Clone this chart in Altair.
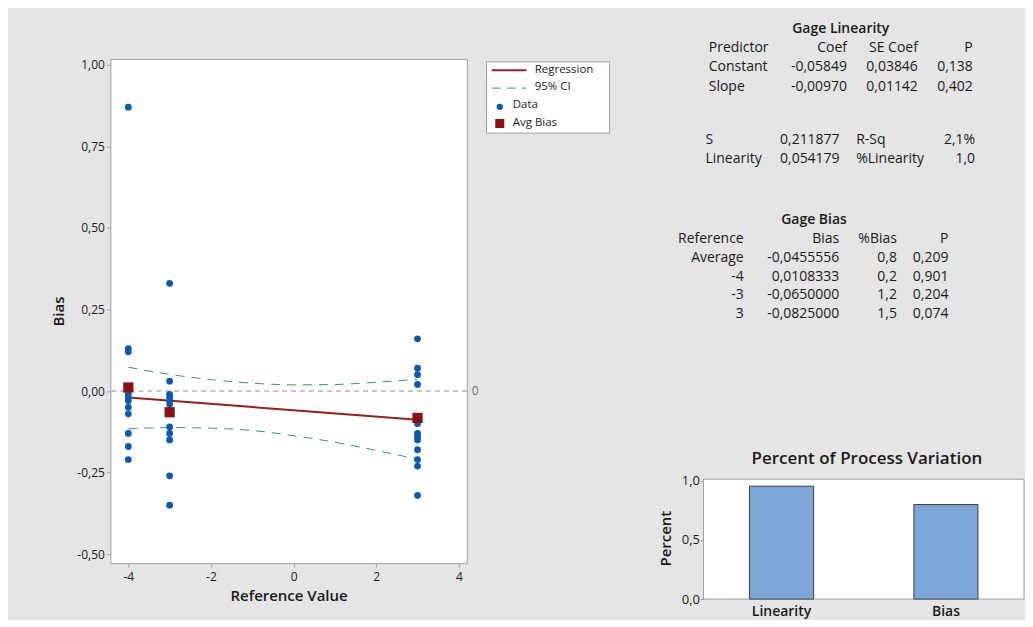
import altair as alt
import pandas as pd

FONT = "Open Sans"
TXT = "#1a1a1a"
BG = "#e5e5e5"
BLUE = "#0a5aad"
RED = "#9c1c1c"
SQ = "#8b1010"
GREEN = "#36a043"
BARC = "#7ca6d8"
GRID = "#a0a0a0"

# ---------------- data ----------------
ref_levels = [-4, -3, 3]
bias_m4 = [0.87, 0.13, 0.12, -0.01, -0.02, -0.03, -0.05, -0.07, -0.13, -0.17, -0.21]
bias_m3 = [0.33, 0.03, -0.01, -0.02, -0.03, -0.04, -0.06, -0.11, -0.13, -0.15, -0.26, -0.35]
bias_p3 = [0.16, 0.07, 0.05, 0.02, -0.10, -0.13, -0.14, -0.15, -0.18, -0.21, -0.23, -0.32]
avg_bias = [0.0108333, -0.0650000, -0.0825000]
reg_x = [-4, 3]
reg_y = [-0.020, -0.088]
ci_x = [-4, -3, -2, -1, 0, 1, 2, 3]
ci_upper = [0.073, 0.051, 0.035, 0.024, 0.019, 0.020, 0.027, 0.036]
ci_lower = [-0.116, -0.112, -0.114, -0.121, -0.137, -0.157, -0.182, -0.209]
legend_labels = ["Regression", "95% CI", "Data", "Avg Bias"]

pv_cats = ["Linearity", "Bias"]
pv_vals = [0.955, 0.80]

lin_title = "Gage Linearity"
lin_c1 = ["Predictor", "Constant", "Slope"]
lin_c2 = ["Coef", "-0,05849", "-0,00970"]
lin_c3 = ["SE Coef", "0,03846", "0,01142"]
lin_c4 = ["P", "0,138", "0,402"]
st_c1 = ["S", "Linearity"]
st_c2 = ["0,211877", "0,054179"]
st_c3 = ["R-Sq", "%Linearity"]
st_c4 = ["2,1%", "1,0"]
bias_title = "Gage Bias"
bi_c1 = ["Reference", "Average", "-4", "-3", "3"]
bi_c2 = ["Bias", "-0,0455556", "0,0108333", "-0,0650000", "-0,0825000"]
bi_c3 = ["%Bias", "0,8", "0,2", "1,2", "1,5"]
bi_c4 = ["P", "0,209", "0,901", "0,204", "0,074"]
bar_title = "Percent of Process Variation"
bar_ytitle = "Percent"

# ---------------- main panel ----------------
W1, H1 = 357, 505
xsc = alt.Scale(domain=[-4.435, 4.193], nice=False, zero=False)
ysc = alt.Scale(domain=[-0.5275, 1.018], nice=False, zero=False)

pts = pd.DataFrame({
    "x": [ref_levels[0]] * len(bias_m4) + [ref_levels[1]] * len(bias_m3) + [ref_levels[2]] * len(bias_p3),
    "y": bias_m4 + bias_m3 + bias_p3,
})
avg_df = pd.DataFrame({"x": ref_levels, "y": avg_bias})
reg_df = pd.DataFrame({"x": reg_x, "y": reg_y})
ci_df = pd.DataFrame({"x": ci_x, "up": ci_upper, "lo": ci_lower})
one = pd.DataFrame({"k": [0]})

yfmt = "replace(replace(format(datum.value, '.2f'), '.', ','), '\u2212', '-')"
xfmt = "replace(format(datum.value, 'd'), '\u2212', '-')"

X = alt.X("x:Q", scale=xsc, axis=alt.Axis(
    values=[-4, -2, 0, 2, 4], title="Reference Value", labelExpr=xfmt,
    domain=False, grid=False, tickColor=GRID, tickSize=4, labelPadding=4,
    labelFontSize=12, titleFontSize=15, titleFontWeight=600, titlePadding=6))
Y = alt.Y("y:Q", scale=ysc, axis=alt.Axis(
    values=[-0.5, -0.25, 0, 0.25, 0.5, 0.75, 1.0], title="Bias", labelExpr=yfmt,
    domain=False, grid=False, tickColor=GRID, tickSize=4, labelPadding=2,
    labelFontSize=12, titleFontSize=15, titleFontWeight=600, titlePadding=10))

zero = alt.Chart(one).mark_rule(color="#b4b4b4", strokeDash=[5, 4], strokeWidth=1.5).encode(
    y=alt.datum(0, scale=ysc))
zero_lbl = alt.Chart(one).mark_text(align="left", baseline="middle", font=FONT, fontSize=12,
                                    color="#707070").encode(
    x=alt.value(362), y=alt.datum(0, scale=ysc), text=alt.value("0"))
ci_up = alt.Chart(ci_df).mark_line(color=GREEN, strokeDash=[9, 7], strokeWidth=1,
                                   interpolate="monotone").encode(x=X, y=alt.Y("up:Q", scale=ysc))
ci_lo = alt.Chart(ci_df).mark_line(color=GREEN, strokeDash=[9, 7], strokeWidth=1,
                                   interpolate="monotone").encode(x=X, y=alt.Y("lo:Q", scale=ysc))
reg = alt.Chart(reg_df).mark_line(color=RED, strokeWidth=2).encode(x=X, y=Y)
dots = alt.Chart(pts).mark_point(filled=True, shape="circle", size=46, color=BLUE, opacity=1).encode(x=X, y=Y)
sqs = alt.Chart(avg_df).mark_point(filled=True, shape="square", size=105, color=SQ, opacity=1).encode(x=X, y=Y)

# legend (drawn manually)
lg_box = alt.Chart(one).mark_rect(fill="white", stroke=GRID, strokeWidth=1).encode(
    x=alt.value(376.7), x2=alt.value(500), y=alt.value(3), y2=alt.value(74.3))
lg_reg = alt.Chart(one).mark_rule(color=RED, strokeWidth=2).encode(
    x=alt.value(382), x2=alt.value(416.7), y=alt.value(11.3))
lg_ci = alt.Chart(one).mark_rule(color=GREEN, strokeWidth=1, strokeDash=[9, 6]).encode(
    x=alt.value(382), x2=alt.value(416.7), y=alt.value(29.3))
lg_dot = alt.Chart(one).mark_point(filled=True, shape="circle", size=40, color=BLUE, opacity=1).encode(
    x=alt.value(390), y=alt.value(48))
lg_sq = alt.Chart(one).mark_point(filled=True, shape="square", size=81, color=SQ, opacity=1).encode(
    x=alt.value(390), y=alt.value(64.7))
lg_txt = []
for lab, lx, ly in zip(legend_labels, [425, 425, 403, 403], [11, 28, 46.5, 64]):
    lg_txt.append(alt.Chart(one).mark_text(align="left", baseline="middle", font=FONT, fontSize=11.5,
                                           color=TXT).encode(x=alt.value(lx), y=alt.value(ly),
                                                             text=alt.value(lab)))
# invisible guide defining the panel's outer bounds
guide1 = alt.Chart(one).mark_rule(color="black", strokeOpacity=0, strokeWidth=1).encode(
    x=alt.value(-100), x2=alt.value(515), y=alt.value(-46))

main = alt.layer(guide1, zero, ci_up, ci_lo, reg, dots, sqs, zero_lbl, lg_box, lg_reg, lg_ci,
                 lg_dot, lg_sq, *lg_txt).properties(
    width=W1, height=H1, view=alt.ViewBackground(fill="white", stroke=GRID))

# ---------------- right panel ----------------
# panel origin is aligned with the main plot's top; the bar plot sits at the bottom of it
W2, H2 = 321, 541
BAR_TOP, BAR_BOT = 421, 541
pv_df = pd.DataFrame({"cat": pv_cats, "val": pv_vals})
pfmt = "replace(format(datum.value, '.1f'), '.', ',')"

bar_bg = alt.Chart(one).mark_rect(fill="white", stroke=GRID, strokeWidth=1).encode(
    x=alt.value(0), x2=alt.value(W2), y=alt.value(BAR_TOP), y2=alt.value(BAR_BOT))
bars = alt.Chart(pv_df).mark_bar(color=BARC, stroke="#404040", strokeWidth=1).encode(
    x=alt.X("cat:N", sort=pv_cats, scale=alt.Scale(paddingInner=0.61, paddingOuter=0.28),
            axis=alt.Axis(title=None, labelAngle=0, ticks=False, domain=False, labelPadding=5,
                          labelFontSize=14, labelFontWeight=600)),
    y=alt.Y("val:Q", scale=alt.Scale(domain=[0, 1.014], nice=False, zero=False,
                                     range=[BAR_BOT, BAR_TOP]),
            axis=alt.Axis(values=[0, 0.5, 1.0], title=None, labelExpr=pfmt, domain=False,
                          grid=False, tickColor=GRID, tickSize=3, labelPadding=1, labelFontSize=13)),
)


def col_text(strings, x, y0, dy, align, weight=400, size=14):
    df = pd.DataFrame({"t": strings, "i": list(range(len(strings)))})
    return alt.Chart(df).transform_calculate(py=f"{y0} + datum.i * {dy}").mark_text(
        align=align, baseline="middle", font=FONT, fontSize=size, fontWeight=weight, color=TXT
    ).encode(x=alt.value(x), y=alt.Y("py:Q", scale=None, axis=None), text="t:N")


def one_text(s, x, y, align="center", weight=600, size=14, angle=0):
    return alt.Chart(one).mark_text(align=align, baseline="middle", font=FONT, fontSize=size,
                                    fontWeight=weight, color=TXT, angle=angle).encode(
        x=alt.value(x), y=alt.value(y), text=alt.value(s))


texts = [
    one_text(lin_title, 137.5, -30.3),
    col_text(lin_c1, 5.3, -11.3, 19.7, "left"),
    col_text(lin_c2, 143.7, -11.3, 19.7, "right"),
    col_text(lin_c3, 214.7, -11.3, 19.7, "right"),
    col_text(lin_c4, 269.7, -11.3, 19.7, "right"),
    col_text(st_c1, 2, 81, 19.3, "left"),
    col_text(st_c2, 136.3, 81, 19.3, "right"),
    col_text(st_c3, 153, 81, 19.3, "left"),
    col_text(st_c4, 272, 81, 19.3, "right"),
    one_text(bias_title, 110.7, 161),
    col_text(bi_c1, 40.3, 180.3, 18.85, "right"),
    col_text(bi_c2, 136, 180.3, 18.85, "right"),
    col_text(bi_c3, 193.7, 180.3, 18.85, "right"),
    col_text(bi_c4, 245.3, 180.3, 18.85, "right"),
    one_text(bar_title, 163.7, 401, size=17),
    one_text(bar_ytitle, -38, 480.5, size=15, angle=270),
]
guide2 = alt.Chart(one).mark_rule(color="black", strokeOpacity=0, strokeWidth=1).encode(
    x=alt.value(-63), x2=alt.value(0), y=alt.value(-46))

right = alt.layer(guide2, bar_bg, bars, *texts).properties(
    width=W2, height=H2, view=alt.ViewBackground(fill="transparent", stroke="transparent"))

chart = alt.hconcat(main, right, spacing=14).properties(
    padding={"left": 1.5, "top": 3.5, "right": 0, "bottom": 0},
    background=BG,
).configure_axis(
    labelFont=FONT, titleFont=FONT, labelColor=TXT, titleColor=TXT
).configure_text(font=FONT)

chart.save("out.html", embed_options={"renderer": "svg", "actions": False})
